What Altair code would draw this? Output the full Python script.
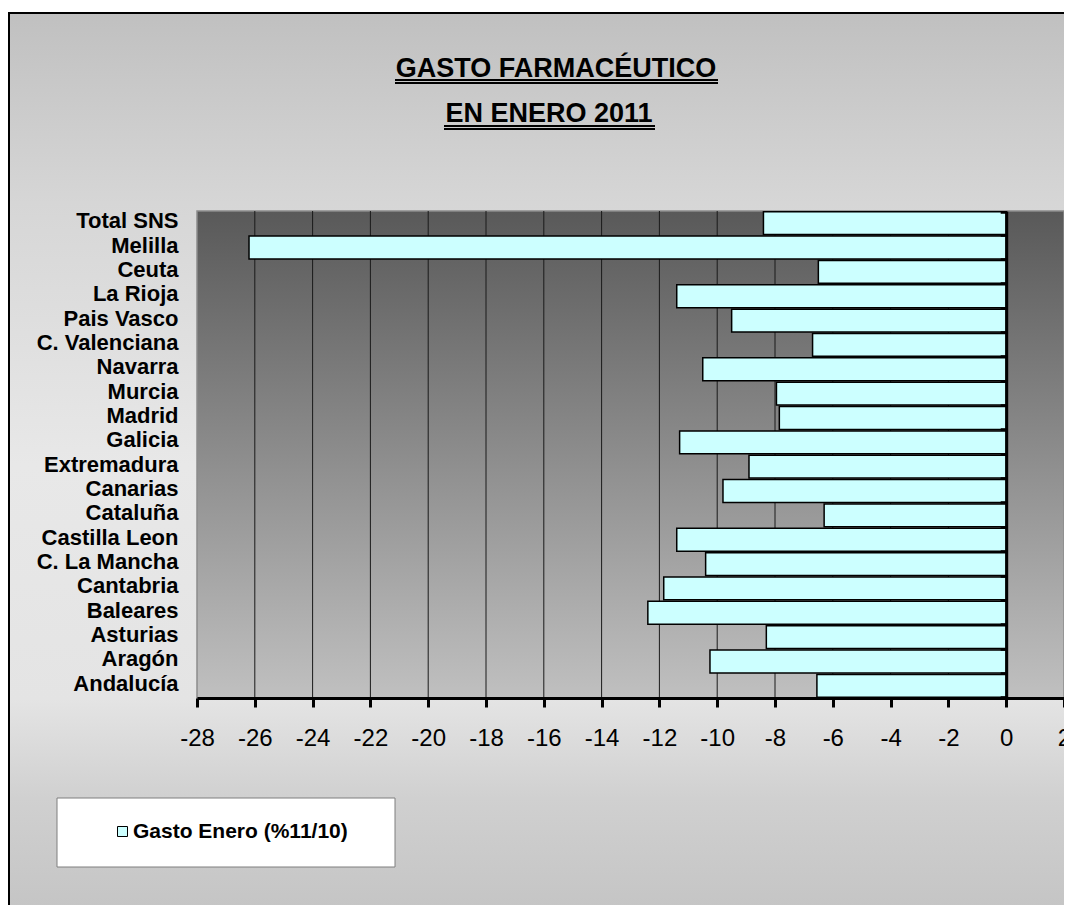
import altair as alt
import pandas as pd

# ---------------- data ----------------
regions = ["Total SNS", "Melilla", "Ceuta", "La Rioja", "Pais Vasco", "C. Valenciana",
           "Navarra", "Murcia", "Madrid", "Galicia", "Extremadura", "Canarias",
           "Cataluña", "Castilla Leon", "C. La Mancha", "Cantabria", "Baleares",
           "Asturias", "Aragón", "Andalucía"]
values = [-8.4, -26.2, -6.5, -11.4, -9.5, -6.7,
          -10.5, -7.95, -7.85, -11.3, -8.9, -9.8,
          -6.3, -11.4, -10.4, -11.85, -12.4,
          -8.3, -10.25, -6.55]
series_name = "Gasto Enero (%11/10)"
x_ticks = list(range(-28, 3, 2))
grid_vals = list(range(-26, 0, 2))
title_lines = ["GASTO FARMACÉUTICO", "EN ENERO 2011"]

# ---------------- layout / style ----------------
W, H = 867, 487
ZERO_PX = W * 28 / 30
FONT = "Liberation Sans"

df = pd.DataFrame({"region": regions, "valor": values, "serie": series_name})
one = pd.DataFrame({"k": [0]})
grid_df = pd.DataFrame({"g": grid_vals})

xscale = alt.Scale(domain=[-28, 2], nice=False)
yscale = alt.Scale(domain=regions, paddingInner=0.06, paddingOuter=0.03)

bg_grad = alt.LinearGradient(
    gradient="linear", x1=0, x2=0, y1=0, y2=1,
    stops=[alt.GradientStop(offset=0, color="#c0c0c0"),
           alt.GradientStop(offset=0.21, color="#d6d6d6"),
           alt.GradientStop(offset=0.5, color="#e8e8e8"),
           alt.GradientStop(offset=0.76, color="#e4e4e4"),
           alt.GradientStop(offset=0.87, color="#d0d0d0"),
           alt.GradientStop(offset=1, color="#c4c4c4")])
plot_grad = alt.LinearGradient(
    gradient="linear", x1=0, x2=0, y1=0, y2=1,
    stops=[alt.GradientStop(offset=0, color="#595959"),
           alt.GradientStop(offset=1, color="#c0c0c0")])

bg = alt.Chart(one).mark_rect(fill=bg_grad, stroke="black", strokeWidth=2).encode(
    x=alt.value(-188), x2=alt.value(900), y=alt.value(-198), y2=alt.value(705))

plot_bg = alt.Chart(one).mark_rect(fill=plot_grad, stroke="#8c8c8c", strokeWidth=1.5).encode(
    x=alt.value(0), x2=alt.value(W), y=alt.value(0), y2=alt.value(H))

grid = alt.Chart(grid_df).mark_rule(color="#1a1a1a", strokeWidth=1).encode(
    x=alt.X("g:Q", scale=xscale, axis=None))

bars = alt.Chart(df).mark_bar(stroke="black", strokeWidth=1.5).encode(
    x=alt.X("valor:Q", scale=xscale, title=None,
            axis=alt.Axis(values=x_ticks, labelExpr="'' + datum.value",
                          domainColor="black", domainWidth=3,
                          tickColor="black", tickWidth=3, tickSize=9,
                          labelFont=FONT, labelFontSize=24, labelColor="black",
                          labelPadding=19, labelFlush=False, labelOverlap=False,
                          grid=False, zindex=1)),
    y=alt.Y("region:N", scale=yscale, sort=regions, title=None,
            axis=alt.Axis(orient="left", labelFont=FONT, labelFontSize=22,
                          labelFontWeight="bold", labelColor="black",
                          labelPadding=19, labelLimit=0, labelOffset=-2,
                          ticks=False, domain=False, grid=False, zindex=1)),
    color=alt.Color("serie:N", scale=alt.Scale(range=["#ccffff"]),
                    legend=alt.Legend(orient="none", legendX=-85, legendY=610,
                                      title=None, labelFont=FONT, labelFontSize=21,
                                      labelFontWeight="bold", labelColor="black",
                                      labelLimit=400,
                                      symbolType="square", symbolSize=100,
                                      symbolStrokeColor="black", symbolStrokeWidth=1,
                                      labelOffset=0, padding=0, zindex=2)))

zero_axis = alt.Chart(df).mark_point(opacity=0).encode(
    x=alt.X("valor:Q", scale=xscale, axis=None),
    y=alt.Y("region:N", scale=yscale, sort=regions, title=None,
            axis=alt.Axis(orient="left", offset=-ZERO_PX, labels=False,
                          domain=True, domainColor="black", domainWidth=3,
                          ticks=True, tickColor="black", tickWidth=2.5, tickSize=6,
                          tickBand="extent", grid=False, zindex=2)))

legend_box = alt.Chart(one).mark_rect(fill="white", stroke="#7f7f7f", strokeWidth=1).encode(
    x=alt.value(-140), x2=alt.value(198), y=alt.value(587), y2=alt.value(656))

t1 = alt.Chart(one).mark_text(text=title_lines[0], font=FONT, fontWeight="bold", fontSize=27,
                              align="center", baseline="alphabetic", color="black").encode(
    x=alt.value(359), y=alt.value(-134))
t2 = alt.Chart(one).mark_text(text=title_lines[1], font=FONT, fontWeight="bold", fontSize=27,
                              align="center", baseline="alphabetic", color="black").encode(
    x=alt.value(352), y=alt.value(-89))

u1a = alt.Chart(one).mark_rule(color="black", strokeWidth=2).encode(
    x=alt.value(198), x2=alt.value(521), y=alt.value(-131))
u1b = alt.Chart(one).mark_rule(color="black", strokeWidth=2).encode(
    x=alt.value(198), x2=alt.value(521), y=alt.value(-128))
u2a = alt.Chart(one).mark_rule(color="black", strokeWidth=2).encode(
    x=alt.value(247), x2=alt.value(458), y=alt.value(-85))
u2b = alt.Chart(one).mark_rule(color="black", strokeWidth=2).encode(
    x=alt.value(247), x2=alt.value(458), y=alt.value(-82))

chart = alt.layer(bg, plot_bg, grid, bars, zero_axis, legend_box, t1, t2, u1a, u1b, u2a, u2b).resolve_axis(
    x="independent", y="independent"
).properties(
    width=W, height=H,
    autosize=alt.AutoSizeParams(type="none"),
    padding={"left": 189, "top": 203, "right": 0, "bottom": 207},
    background="white",
).configure_view(stroke=None)

chart.save("out.html", embed_options={"renderer": "svg", "actions": False})
